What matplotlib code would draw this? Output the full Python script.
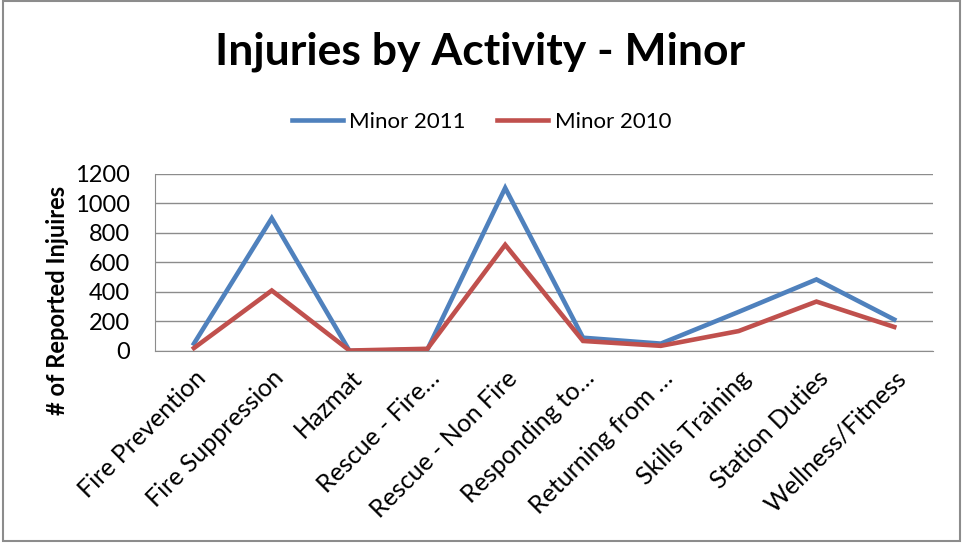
import numpy as np
import matplotlib
matplotlib.use("Agg")
import matplotlib.pyplot as plt
from matplotlib.patches import Rectangle

plt.rcParams['font.family'] = ['Lato', 'DejaVu Sans']

activities = ["Fire Prevention", "Fire Suppression", "Hazmat", "Rescue - Fire\u2026",
              "Rescue - Non Fire", "Responding to\u2026", "Returning from \u2026",
              "Skills Training", "Station Duties", "Wellness/Fitness"]
minor_2011 = [50, 900, 0, 10, 1105, 90, 50, 265, 485, 213]
minor_2010 = [20, 410, 3, 15, 720, 68, 35, 135, 335, 163]
yticks = [0, 200, 400, 600, 800, 1000, 1200]

fig = plt.figure(figsize=(9.63, 5.43), dpi=100)
ax = fig.add_axes([0.161, 0.3536, 0.808, 0.326])

x = np.arange(len(activities))
ax.plot(x, minor_2011, color="#4F81BD", lw=3.3, label="Minor 2011", solid_joinstyle="miter")
ax.plot(x, minor_2010, color="#C0504D", lw=3.3, label="Minor 2010", solid_joinstyle="miter")

ax.set_xlim(-0.5, len(activities) - 0.5)
ax.set_ylim(0, 1200)
ax.set_yticks(yticks)
ax.set_yticklabels([str(v) for v in yticks], fontsize=17)
ax.yaxis.grid(True, color="#8c8c8c", lw=1)
ax.set_axisbelow(True)
ax.tick_params(axis="both", length=0)
ax.tick_params(axis="y", pad=18)
for s in ["top", "right"]:
    ax.spines[s].set_visible(False)
ax.spines["left"].set_color("#8c8c8c")
ax.spines["bottom"].set_color("#8c8c8c")

ax.set_xticks(x)
ax.set_xticklabels(activities, rotation=45, ha="right", va="top",
                   rotation_mode="anchor", fontsize=18)
ax.tick_params(axis="x", pad=11)

fig.text(0.060, 0.447, "# of Reported Injuires", rotation=90, fontsize=17,
         fontweight="bold", ha="center", va="center")
fig.text(0.499, 0.905, "Injuries by Activity - Minor", fontsize=32,
         fontweight="bold", ha="center", va="center")

fig.legend(loc="center", bbox_to_anchor=(0.5, 0.775), ncol=2, frameon=False,
           fontsize=16, handlelength=2.3, columnspacing=1.4, handletextpad=0.3)

fig.patches.append(Rectangle((0.003, 0.004), 0.994, 0.994, transform=fig.transFigure,
                             fill=False, edgecolor="#8c8c8c", lw=1.5))

fig.savefig("out.png", dpi=100, facecolor="white")
